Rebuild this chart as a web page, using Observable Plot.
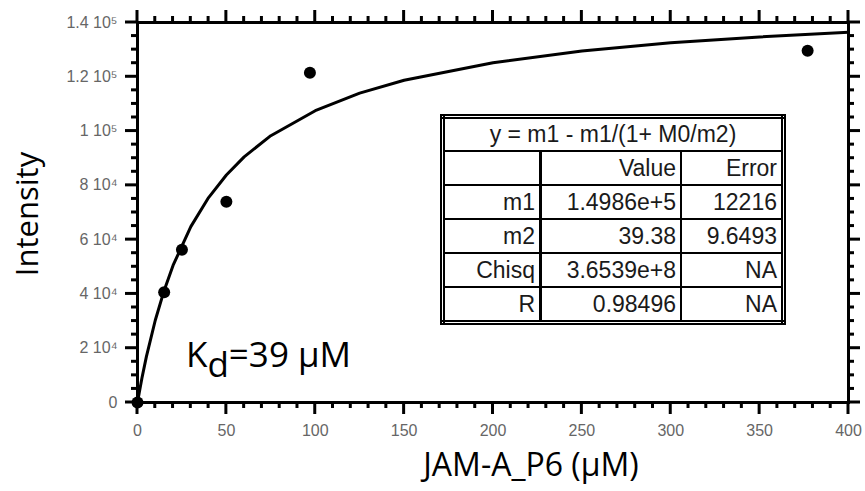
<!DOCTYPE html>
<html>
<head>
<meta charset="utf-8">
<script src="https://cdn.jsdelivr.net/npm/d3@7"></script>
<script src="https://cdn.jsdelivr.net/npm/@observablehq/plot@0.6"></script>
<style>
  body { margin: 0; background: #fff; }
  #wrap { position: relative; width: 865px; height: 491px; overflow: hidden; }
  #fit { position: absolute; left: 440px; top: 114px; border-collapse: collapse; border: 5px double #000;
         font-family: "Liberation Sans", Arial, sans-serif; font-size: 23px; color: #1a1a1a; background: #fff; }
  #fit td { border: 2px solid #000; height: 32px; padding: 0 4px; text-align: right; white-space: nowrap; line-height: 1; }
  #fit td.c0 { border-right: 3px solid #000; width: 86px; }
  #fit td.c1 { width: 130px; }
  #fit td.c2 { width: 91px; }
  #fit td.head { text-align: center; height: 31px; }
</style>
</head>
<body>
<div id="wrap"></div>
<script>
// measured data points
const concentration = [0, 15, 25, 50, 97, 377];
const intensity = [0, 40600, 56300, 74000, 121500, 129600];

// fitted curve
const fitX = [0, 1, 2.5, 5, 10, 15, 20, 30, 40, 50, 60, 75, 100, 125, 150, 200, 250, 300, 350, 400];
const fitY = [0, 3700, 9000, 16900, 30300, 41300, 50500, 64800, 75500, 83800, 90500, 98300, 107500, 114000, 118700, 125200, 129500, 132500, 134700, 136400];

// ticks and tick labels
const xTickValues = [0, 50, 100, 150, 200, 250, 300, 350, 400];
const yTickValues = [0, 20000, 40000, 60000, 80000, 100000, 120000, 140000];
const xMinor = d3.range(0, 401, 10).filter(v => v % 50 !== 0);
const yMinor = d3.range(0, 140001, 5000).filter(v => v % 20000 !== 0);

// fit table text
const tableTitle = "y = m1 - m1/(1+ M0/m2)";
const tableHeader = ["", "Value", "Error"];
const paramNames = ["m1", "m2", "Chisq", "R"];
const paramValues = ["1.4986e+5", "39.38", "3.6539e+8", "0.98496"];
const paramErrors = ["12216", "9.6493", "NA", "NA"];

const xTitle = "JAM-A_P6 (\u03bcM)";
const yTitle = "Intensity";

const sup = {"0":"\u2070","1":"\u00b9","2":"\u00b2","3":"\u00b3","4":"\u2074","5":"\u2075","6":"\u2076","7":"\u2077","8":"\u2078","9":"\u2079"};
function yFmt(d) {
  if (d === 0) return "0";
  const e = Math.floor(Math.log10(d));
  const m = +(d / Math.pow(10, e)).toFixed(2);
  return m + " 10" + String(e).split("").map(c => sup[c]).join("");
}

const points = concentration.map((x, i) => ({x, y: intensity[i]}));
const fit = fitX.map((x, i) => ({x, y: fitY[i]}));

const W = 865, H = 491, mL = 137, mR = 17, mT = 22, mB = 89;
const MAJ = 12, MIN = 6;
const chart = Plot.plot({
  width: W, height: H,
  marginLeft: mL, marginRight: mR, marginTop: mT, marginBottom: mB,
  x: {domain: [0, 400]},
  y: {domain: [0, 140000]},
  style: {fontFamily: "'Liberation Sans', Arial, sans-serif", fontSize: "16px", background: "#fff"},
  marks: [
    Plot.line(fit, {x: "x", y: "y", stroke: "#000", strokeWidth: 3}),
    Plot.dot(points, {x: "x", y: "y", r: 6, fill: "#000", stroke: "none"}),
    Plot.axisX({ticks: xTickValues, tickSize: 0, tickPadding: 22, fill: "#666", stroke: "none", label: null, tickFormat: d => String(d)}),
    Plot.axisY({ticks: yTickValues, tickSize: 0, tickPadding: 20, fill: "#666", stroke: "none", label: null, tickFormat: yFmt}),
    Plot.frame({stroke: "#000", strokeWidth: 3})
  ]
});

const wrap = document.getElementById("wrap");
wrap.appendChild(chart);

const svg = d3.select(chart);

// outward tick marks on all four sides, placed through Plot's own scales
try {
  const sx = chart.scale("x"), sy = chart.scale("y");
  const fBottom = H - mB, fTop = mT, fLeft = mL, fRight = W - mR;
  const tg = svg.append("g").attr("stroke", "#000").attr("stroke-width", 3).attr("fill", "none");
  const xt = (vals, len) => vals.forEach(v => {
    const px = sx.apply(v);
    tg.append("line").attr("x1", px).attr("x2", px).attr("y1", fBottom).attr("y2", fBottom + len);
    tg.append("line").attr("x1", px).attr("x2", px).attr("y1", fTop).attr("y2", fTop - len);
  });
  const yt = (vals, len) => vals.forEach(v => {
    const py = sy.apply(v);
    tg.append("line").attr("y1", py).attr("y2", py).attr("x1", fLeft).attr("x2", fLeft - len);
    tg.append("line").attr("y1", py).attr("y2", py).attr("x1", fRight).attr("x2", fRight + len);
  });
  xt(xTickValues, MAJ); xt(xMinor, MIN);
  yt(yTickValues, MAJ); yt(yMinor, MIN);
} catch (e) { console.error(e); }

const titleFont = "'Open Sans', 'Noto Sans', sans-serif";
svg.append("text").attr("x", 531).attr("y", 476).attr("text-anchor", "middle")
  .attr("font-family", titleFont).attr("font-size", 32).attr("fill", "#000").text(xTitle);
svg.append("text").attr("transform", "translate(38,214) rotate(-90)").attr("text-anchor", "middle")
  .attr("font-family", titleFont).attr("font-size", 31).attr("fill", "#000").text(yTitle);
const kd = svg.append("text").attr("x", 186).attr("y", 367).attr("text-anchor", "start")
  .attr("font-family", titleFont).attr("font-size", 35).attr("fill", "#000");
kd.append("tspan").text("K");
kd.append("tspan").attr("dy", 10).text("d");
kd.append("tspan").attr("dy", -10).text("=39 \u03bcM");

// fit results table
const table = document.createElement("table");
table.id = "fit";
const tr0 = table.insertRow();
const th = tr0.insertCell(); th.colSpan = 3; th.className = "head"; th.textContent = tableTitle;
const rows = [tableHeader, ...paramNames.map((n, i) => [n, paramValues[i], paramErrors[i]])];
rows.forEach(r => {
  const tr = table.insertRow();
  r.forEach((t, j) => { const td = tr.insertCell(); td.className = "c" + j; td.textContent = t; });
});
wrap.appendChild(table);
</script>
</body>
</html>
